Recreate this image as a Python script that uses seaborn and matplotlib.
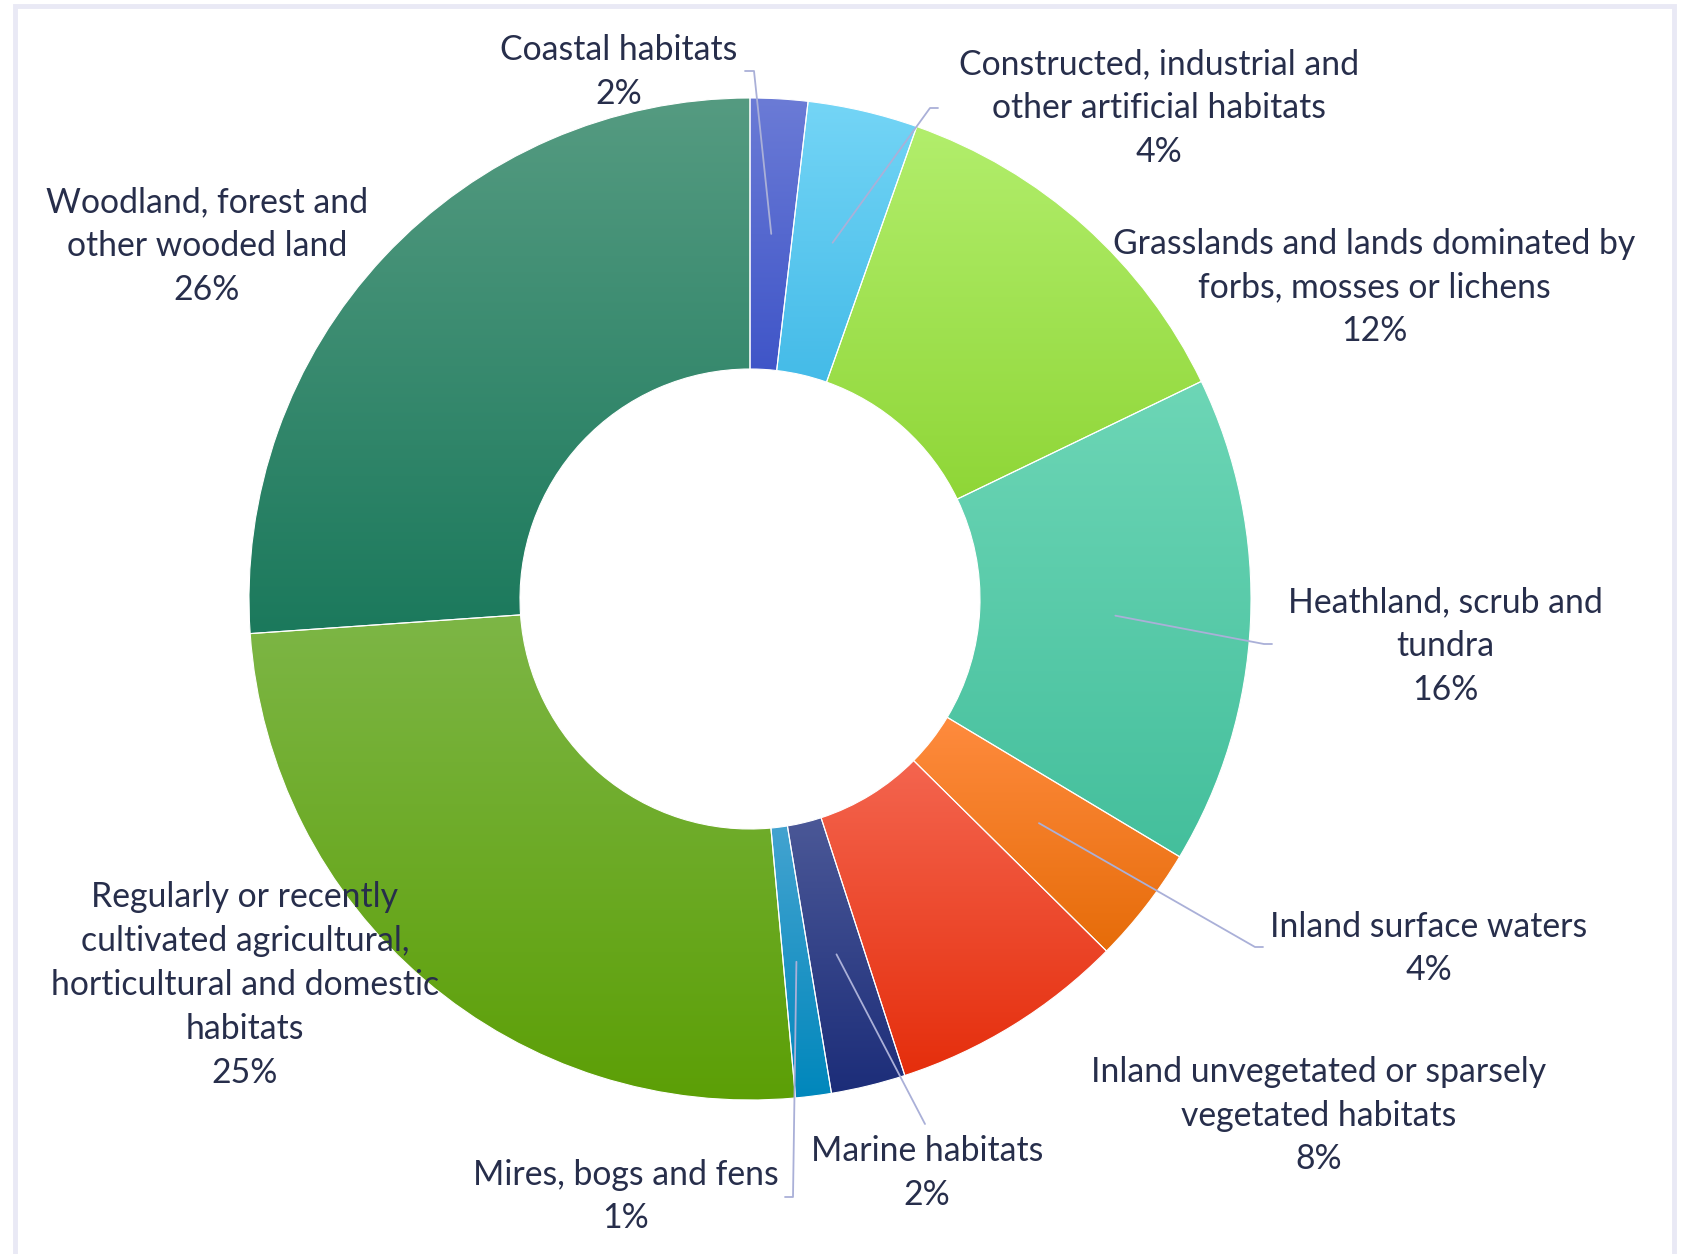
import numpy as np
import matplotlib
matplotlib.use("Agg")
import matplotlib.pyplot as plt
import seaborn as sns
from matplotlib.patches import Rectangle

# ---------------- data ----------------
categories = [
    "Coastal habitats",
    "Constructed, industrial and\nother artificial habitats",
    "Grasslands and lands dominated by\nforbs, mosses or lichens",
    "Heathland, scrub and\ntundra",
    "Inland surface waters",
    "Inland unvegetated or sparsely\nvegetated habitats",
    "Marine habitats",
    "Mires, bogs and fens",
    "Regularly or recently\ncultivated agricultural,\nhorticultural and domestic\nhabitats",
    "Woodland, forest and\nother wooded land",
]
values = [1.85, 3.55, 12.45, 15.75, 3.8, 7.6, 2.4, 1.15, 25.35, 26.1]
top_colors = ["#6b7bd6", "#74d5f6", "#b2ee6c", "#6dd6b6", "#ff8b3e",
              "#f4654f", "#4b5897", "#43a3d0", "#7db646", "#559b81"]
bottom_colors = ["#3f55c8", "#44bbe8", "#8fd637", "#44bf9c", "#e66c09",
                 "#e52e0c", "#1c2d79", "#0087bc", "#5c9f06", "#1b795c"]

# ---------------- layout (pixels, y measured from top) ----------------
W, H = 1683, 1254
center_px = (750, 599)
r_outer, r_inner = 501, 230
label_pos = [(619, 72), (1159, 108.5), (1374, 287.5), (1445, 646.5),
             (1429, 948.5), (1319, 1115.5), (927, 1173), (626, 1196.5),
             (245, 985), (207, 246.5)]
leader_end = [[(754, 71), (745, 71)], [(930, 108), (938, 108)], None,
              [(1264, 644), (1272, 644)], [(1255, 947), (1263, 947)], None,
              [(925, 1124)], [(793, 1197), (785, 1197)], None, None]

sns.set_theme(style="white")
plt.rcParams["font.family"] = ["Lato", "DejaVu Sans"]

fig = plt.figure(figsize=(W / 100, H / 100), dpi=100)
fig.patch.set_facecolor("white")
ax = fig.add_axes([0, 0, 1, 1])

cx, cy = center_px[0], H - center_px[1]
wedges, _ = ax.pie(values, startangle=90, counterclock=False,
                   radius=r_outer, center=(cx, cy),
                   wedgeprops=dict(width=r_outer - r_inner,
                                   edgecolor="white", linewidth=0.8))
ax.set_xlim(0, W)
ax.set_ylim(0, H)
ax.set_aspect("equal")
ax.axis("off")

grad = np.linspace(0, 1, 256).reshape(-1, 1)
for w, c0, c1 in zip(wedges, top_colors, bottom_colors):
    ext = w.get_path().get_extents()
    cmap = sns.blend_palette([c0, c1], n_colors=256, as_cmap=True)
    im = ax.imshow(grad, cmap=cmap, extent=[ext.x0, ext.x1, ext.y0, ext.y1],
                   origin="upper", aspect="auto", zorder=1.5,
                   interpolation="bilinear")
    im.set_clip_path(w)
    w.set_facecolor("none")
    w.set_zorder(2)

text_color = "#272e4b"
line_color = "#aab0d8"
for w, name, val, pos, lead in zip(wedges, categories, values, label_pos, leader_end):
    ax.text(pos[0], H - pos[1], f"{name}\n{val:.0f}%", ha="center", va="center",
            fontsize=24.3, color=text_color, linespacing=1.46, zorder=5)
    if lead is not None:
        mid = np.deg2rad((w.theta1 + w.theta2) / 2)
        rr = 0.73 * r_outer
        xs = [cx + rr * np.cos(mid)] + [p[0] for p in lead]
        ys = [cy + rr * np.sin(mid)] + [H - p[1] for p in lead]
        ax.plot(xs, ys, color=line_color, lw=1.3, zorder=4)

# light frame around the chart area
fig.patches.append(Rectangle((15 / W, -0.05), (1674 - 15) / W, (H - 6 + 0.05 * H) / H,
                             transform=fig.transFigure, fill=False,
                             edgecolor="#e9e9f5", linewidth=3.5))

fig.savefig("out.png", dpi=100)
